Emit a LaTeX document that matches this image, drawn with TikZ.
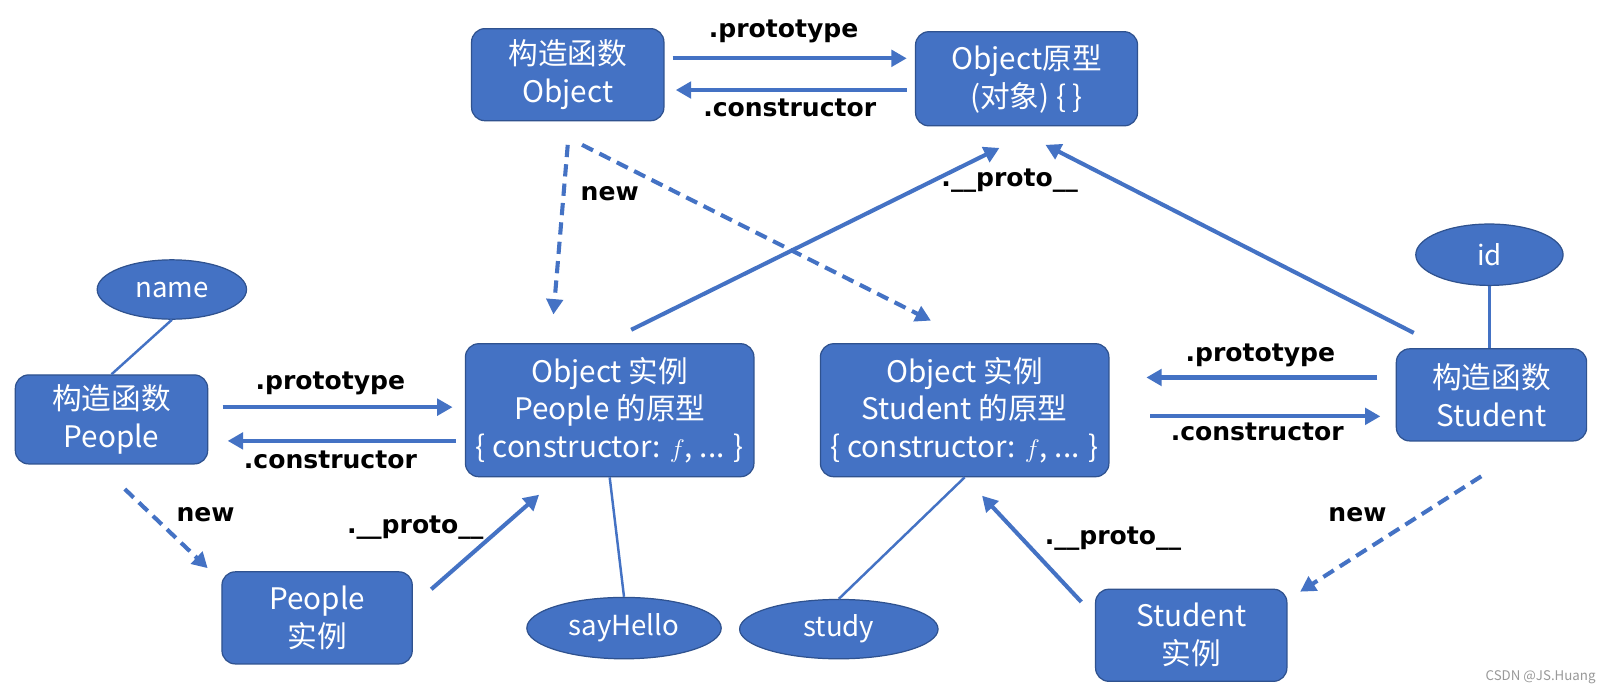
\documentclass[tikz,border=0pt]{standalone}
\usepackage{fontspec}
\setmainfont{Noto Sans CJK SC}
\newfontfamily\labfont{DejaVu Sans}
\usetikzlibrary{arrows.meta,shapes.geometric,calc}
\definecolor{boxc}{HTML}{4472C4}
\definecolor{bordc}{HTML}{2F528F}
\begin{document}
\begin{tikzpicture}[x=1pt,y=-1pt,
  box/.style={draw=bordc, line width=1.2pt, fill=boxc, rounded corners=13pt, text=white, align=center, inner sep=0pt, font=\fontsize{29}{37}\selectfont},
  oval/.style={ellipse, draw=bordc, line width=1.2pt, fill=boxc, text=white, inner sep=0pt, font=\fontsize{27}{32}\selectfont},
  arr/.style={draw=boxc, line width=4pt, -{Triangle[length=15pt,width=16pt]}},
  darr/.style={arr, dash pattern=on 12pt off 7pt},
  link/.style={draw=boxc, line width=2.4pt},
  lab/.style={font=\labfont\bfseries\fontsize{24.5}{29}\selectfont, text=black, inner sep=0pt}]
\useasboundingbox (0,0) rectangle (1568,678);
\fill[white] (0,0) rectangle (1568,678);

% boxes
\node[box, minimum width=188pt, minimum height=90pt] (oc) at (555,73) {构造函数\\Object};
\node[box, minimum width=217pt, minimum height=92pt] (op) at (1003.5,77) {Object原型\\(对象) \{ \}};
\node[box, minimum width=188pt, minimum height=87pt] (pc) at (109,410) {构造函数\\People};
\node[box, minimum width=282pt, minimum height=130pt] (pp) at (596,401) {Object 实例\\People 的原型\\\{ constructor: $f$, ... \}};
\node[box, minimum width=282pt, minimum height=130pt] (sp) at (943,401) {Object 实例\\Student 的原型\\\{ constructor: $f$, ... \}};
\node[box, minimum width=186pt, minimum height=90pt] (sc) at (1458,386) {构造函数\\Student};
\node[box, minimum width=186pt, minimum height=90pt] (pi) at (310,604) {People\\实例};
\node[box, minimum width=187pt, minimum height=90pt] (si) at (1164.5,621) {Student\\实例};

% ellipses
\node[oval, minimum width=146pt, minimum height=58pt] (nm) at (168,283) {name};
\node[oval, minimum width=144pt, minimum height=60pt] (id) at (1456,249) {id};
\node[oval, minimum width=190pt, minimum height=60pt] (sh) at (610,614) {sayHello};
\node[oval, minimum width=194pt, minimum height=58pt] (st) at (820,615) {study};

% plain links
\draw[link] (nm.south) -- (pc.north);
\draw[link] (id.south) -- (id.south |- sc.north);
\draw[link] (pp.south) -- (sh.north);
\draw[link] (sp.south) -- (st.north);

% horizontal arrows
\draw[arr] ($(oc.east)+(8,-16)$) -- ($(op.west)+(-8,-20)$);
\draw[arr] ($(op.west)+(-8,11)$) -- ($(oc.east)+(11,15)$);
\draw[arr] ($(pc.east)+(14,-12)$) -- ($(pp.west)+(-12,-3)$);
\draw[arr] ($(pp.west)+(-9,30)$) -- ($(pc.east)+(19,21)$);
\draw[arr] ($(sc.west)+(-18,-17)$) -- ($(sp.east)+(36,-32)$);
\draw[arr] ($(sp.east)+(40,6)$) -- ($(sc.west)+(-15,21)$);

% diagonal arrows
\draw[darr] ($(oc.south)+(0,23)$) -- ($(pp.north)+(-55,-28)$);
\draw[darr] ($(oc.south)+(14,23)$) -- ($(sp.north)+(-33,-22)$);
\draw[arr] ($(pp.north)+(21,-13)$) -- ($(op.south)+(-26.5,21)$);
\draw[arr] ($(sc.north)+(-76,-15)$) -- ($(op.south)+(18.5,18)$);
\draw[darr] ($(pc.south)+(13,24)$) -- ($(pi.north)+(-107,-3)$);
\draw[arr] ($(pi.east)+(18,-28)$) -- ($(pp.south)+(-69,17)$);
\draw[arr] ($(si.north)+(-107.5,13)$) -- ($(sp.south)+(17,18)$);
\draw[darr] ($(sc.south)+(-10,34)$) -- ($(si.north)+(106.5,3)$);

% labels
\node[lab] (l1) at (766,31) {.prototype};
\node[lab] (l2) at (772,105) {.constructor};
\node[lab] (l3) at (596,189) {new};
\node[lab] (l4) at (987,177) {.\_\_proto\_\_};
\node[lab] (l5) at (323,375) {.prototype};
\node[lab] (l6) at (323,450) {.constructor};
\node[lab] (l7) at (1232,347) {.prototype};
\node[lab] (l8) at (1229,422) {.constructor};
\node[lab] (l9) at (201,503) {new};
\node[lab] (l10) at (406,516) {.\_\_proto\_\_};
\node[lab] (l11) at (1327,503) {new};
\node[lab] (l12) at (1088,527) {.\_\_proto\_\_};

\node[font=\fontsize{13}{15}\selectfont, text=black!40, inner sep=0pt] (wm) at (1506,662) {CSDN @JS.Huang};
\end{tikzpicture}
\end{document}
